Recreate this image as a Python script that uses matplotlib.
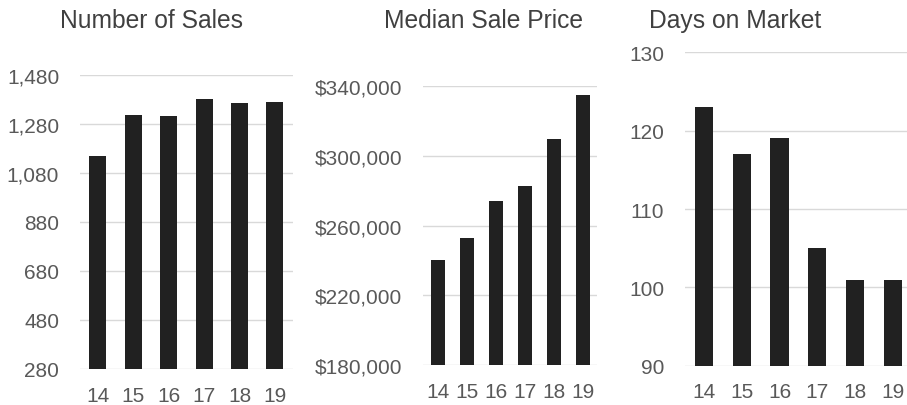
import matplotlib.pyplot as plt
from matplotlib.ticker import FuncFormatter

plt.rcParams['font.family'] = ['Liberation Sans', 'DejaVu Sans']

years = ['14', '15', '16', '17', '18', '19']
sales = [1150, 1316, 1312, 1381, 1365, 1368]
price = [240000, 253000, 274000, 283000, 310000, 335000]
days = [123, 117, 119, 105, 101, 101]

titles = ['Number of Sales', 'Median Sale Price', 'Days on Market']
sales_ticks = [280, 480, 680, 880, 1080, 1280, 1480]
price_ticks = [180000, 220000, 260000, 300000, 340000]
days_ticks = [90, 100, 110, 120, 130]

W, H = 907, 406
fig = plt.figure(figsize=(W / 100, H / 100), dpi=100)

bar_color = '#212121'
grid_color = '#d9d9d9'
label_color = '#595959'
title_color = '#404040'

panels = [
    # (left, bottom, right, top) in pixels, values, ticks, label formatter, title centre
    ((80, 370, 292.7, 75.7), sales, sales_ticks, lambda v, p: f'{int(v):,}', 151, titles[0]),
    ((423.3, 366, 597.3, 87.3), price, price_ticks, lambda v, p: f'${int(v):,}', 484, titles[1]),
    ((685, 366.7, 911.8, 53.3), days, days_ticks, lambda v, p: f'{int(v)}', 735, titles[2]),
]

for (l, b, r, t), vals, ticks, fmt, tx, title in panels:
    ax = fig.add_axes([l / W, 1 - b / H, (r - l) / W, (b - t) / H])
    x = range(len(years))
    ax.bar(x, [v - ticks[0] for v in vals], bottom=ticks[0], width=0.48,
           color=bar_color, zorder=3)
    ax.set_xlim(-0.5, len(years) - 0.5)
    ax.set_ylim(ticks[0], ticks[-1])
    ax.set_yticks(ticks)
    ax.yaxis.set_major_formatter(FuncFormatter(fmt))
    ax.set_xticks(list(x))
    ax.set_xticklabels(years)
    ax.grid(axis='y', color=grid_color, linewidth=1.0, zorder=0)
    for s in ax.spines.values():
        s.set_visible(False)
    ax.tick_params(axis='both', length=0, labelsize=15, colors=label_color)
    ax.tick_params(axis='y', pad=15)
    ax.tick_params(axis='x', pad=12)
    fig.text(tx / W, 1 - 21 / H, title, ha='center', va='center',
             fontsize=17.7, color=title_color)

fig.savefig('out.png', dpi=100, facecolor='white')
